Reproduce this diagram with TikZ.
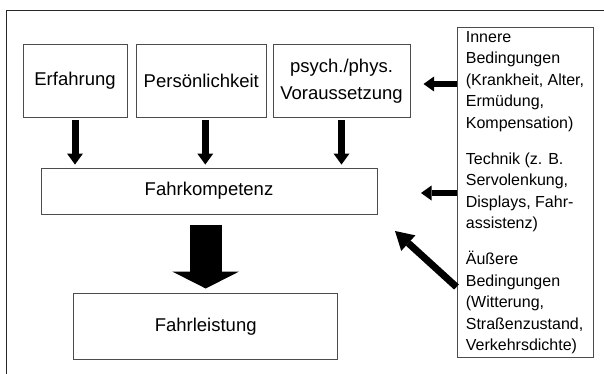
\documentclass[tikz,border=0pt]{standalone}
\usepackage{fontspec}
\setmainfont{Liberation Sans}
\usetikzlibrary{arrows.meta}
\begin{document}
\begin{tikzpicture}[x=1pt,y=-1pt,
  box/.style={draw=black!70, line width=1pt, fill=white, inner sep=0pt,
    font=\fontsize{18.5}{27}\selectfont, align=center},
  sidebox/.style={draw=black!70, line width=1pt, fill=white, inner sep=0pt,
    font=\fontsize{16}{21.5}\selectfont, align=left},
  dnarrow/.style={line width=7pt, -{Triangle[length=11pt,width=16pt,line width=0pt]}},
  lfarrow/.style={line width=6.5pt, -{Triangle[length=10.5pt,width=15pt,line width=0pt]}},
  dgarrow/.style={line width=7pt, -{Triangle[length=18pt,width=21pt,line width=0pt]}},
  bigarrow/.style={line width=32pt, -{Triangle[length=17pt,width=67pt,line width=0pt]}}
]
\fill[white] (0,0) rectangle (604,374);
\useasboundingbox (0,0) rectangle (604,374);
\draw[line width=1.3pt, black!85] (604,10.5) -- (6.7,10.5) -- (6.7,374);

\node[box, minimum width=104pt, minimum height=73pt] (erf) at (75,80.8) {Erfahrung};
\node[box, minimum width=130.5pt, minimum height=73pt] (pers) at (201.3,80.8) {Persönlichkeit};
\node[box, minimum width=137pt, minimum height=73pt] (psy) at (341.5,80.8) {psych./phys.\\Voraussetzung};
\node[box, minimum width=336pt, minimum height=45.7pt] (fk) at (209,191.2) {Fahrkompetenz};
\node[box, minimum width=263.5pt, minimum height=66pt] (fl) at (205.7,326.3) {Fahrleistung};
\node[sidebox, minimum width=136pt, minimum height=330.4pt] (rb) at (525,192.5)
  {Innere\\Bedingungen\\(Krankheit, Alter,\\Ermüdung,\\Kompensation)\\[14.5pt]%
   Technik (z. B.\\Servolenkung,\\Displays, Fahr-\\assistenz)\\[14.5pt]%
   Äußere\\Bedingungen\\(Witterung,\\Straßenzustand,\\Verkehrsdichte)};

\coordinate (pa) at ([xshift=4pt]pers.south);
\draw[dnarrow, shorten <=2.7pt, shorten >=3.3pt] (erf.south) -- (erf.south |- fk.north);
\draw[dnarrow, shorten <=2.7pt, shorten >=3.3pt] (pa) -- (pa |- fk.north);
\draw[dnarrow, shorten <=2.7pt, shorten >=3.3pt] (psy.south) -- (psy.south |- fk.north);

\draw[bigarrow, shorten <=10pt, shorten >=4.3pt] (fk.south -| fl.north) -- (fl.north);

\coordinate (t1) at (423.5,84);
\coordinate (t2) at (421,193);
\coordinate (t3) at (395,231);
\coordinate (s3) at (0,287);
\draw[lfarrow] (t1 -| rb.west) -- (t1);
\draw[lfarrow] (t2 -| rb.west) -- (t2);
\draw[dgarrow] (s3 -| rb.west) -- (t3);
\end{tikzpicture}
\end{document}
